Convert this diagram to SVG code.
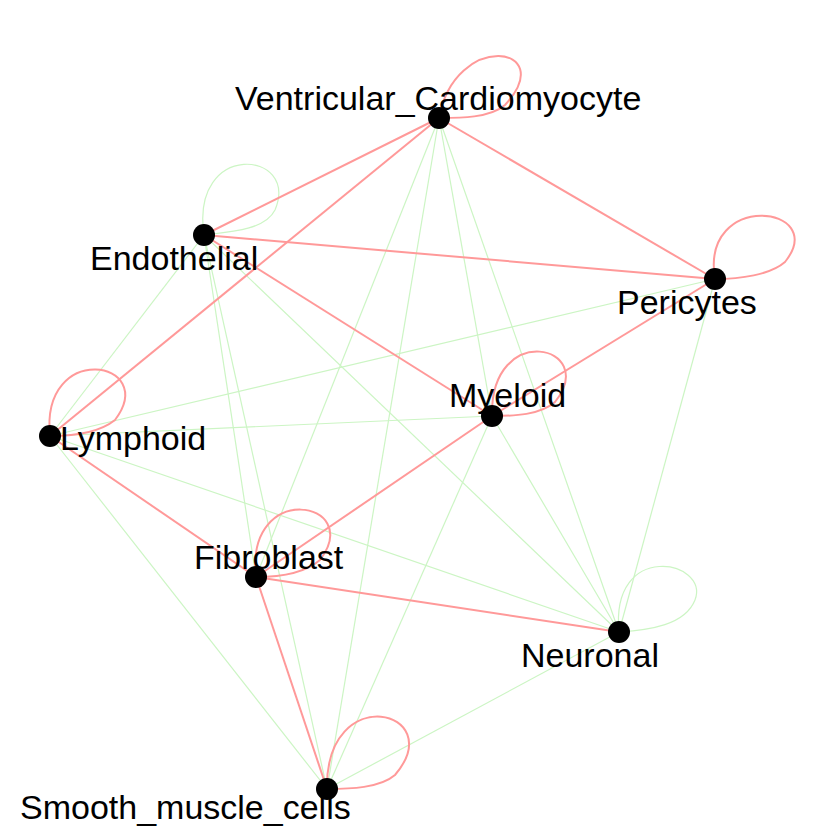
<svg xmlns="http://www.w3.org/2000/svg" width="840" height="840" viewBox="0 0 840 840">
<style>
.r{stroke:#ff9999;stroke-width:2;fill:none}
.g{stroke:#ccf5c4;stroke-width:1.2;fill:none}
.t{font-family:"Liberation Sans",Arial,sans-serif;font-size:34px;fill:#000}
</style>
<rect width="840" height="840" fill="#fff"/>
<g id="connectors">
<line class="g" x1="439" y1="118" x2="492" y2="416"/>
<line class="g" x1="439" y1="118" x2="619" y2="632"/>
<line class="g" x1="439" y1="118" x2="256" y2="577"/>
<line class="g" x1="439" y1="118" x2="327" y2="789"/>
<line class="g" x1="204" y1="235" x2="50" y2="436"/>
<line class="g" x1="204" y1="235" x2="256" y2="577"/>
<line class="g" x1="204" y1="235" x2="327" y2="789"/>
<line class="g" x1="204" y1="235" x2="619" y2="632"/>
<line class="g" x1="715" y1="279" x2="50" y2="436"/>
<line class="g" x1="715" y1="279" x2="619" y2="632"/>
<line class="g" x1="50" y1="436" x2="492" y2="416"/>
<line class="g" x1="50" y1="436" x2="619" y2="632"/>
<line class="g" x1="50" y1="436" x2="327" y2="789" stroke-width="0.7"/>
<line class="g" x1="492" y1="416" x2="619" y2="632"/>
<line class="g" x1="492" y1="416" x2="327" y2="789"/>
<line class="g" x1="619" y1="632" x2="327" y2="789"/>
<path class="g" d="M204,235 C190,140 300,150 275,210 C265,230 230,232 204,235"/>
<path class="g" d="M619,632 C610,540 710,560 695,600 C685,625 650,630 619,632"/>
<line class="r" x1="439" y1="118" x2="204" y2="235"/>
<line class="r" x1="439" y1="118" x2="715" y2="279"/>
<line class="r" x1="439" y1="118" x2="50" y2="436"/>
<line class="r" x1="204" y1="235" x2="715" y2="279"/>
<line class="r" x1="204" y1="235" x2="492" y2="416"/>
<line class="r" x1="715" y1="279" x2="492" y2="416" stroke="#ff7777" stroke-width="3"/>
<line class="r" x1="492" y1="416" x2="256" y2="577" stroke="#ff8080" stroke-width="2.5"/>
<line class="r" x1="50" y1="436" x2="256" y2="577" stroke="#ff6a6a" stroke-width="3.5"/>
<line class="r" x1="256" y1="577" x2="619" y2="632" stroke="#ff6060" stroke-width="3.5"/>
<line class="r" x1="256" y1="577" x2="327" y2="789" stroke="#ff6060" stroke-width="3"/>
<path class="r" d="M439,118 C455,30 560,45 505,105 C490,118 460,118 439,118"/>
<path class="r" d="M715,279 C700,190 830,205 785,262 C770,275 740,279 715,279"/>
<path class="r" d="M492,416 C490,320 600,345 555,402 C540,415 515,416 492,416" stroke="#ff7777" stroke-width="2.5"/>
<path class="r" d="M50,436 C40,340 160,360 115,420 C100,432 75,436 50,436" stroke="#ff7777" stroke-width="3"/>
<path class="r" d="M256,577 C245,480 365,500 320,560 C305,573 280,577 256,577" stroke="#ff8080" stroke-width="2.5"/>
<path class="r" d="M327,789 C325,680 450,710 395,775 C380,788 350,789 327,789" stroke="#ff0000" stroke-width="6"/>
</g>
<g id="n1"><circle cx="439" cy="118" r="11"/><text class="t" x="235" y="110">Ventricular_Cardiomyocyte</text></g>
<g id="n2"><circle cx="204" cy="235" r="11"/><text class="t" x="90" y="270">Endothelial</text></g>
<g id="n3"><circle cx="715" cy="279" r="11"/><text class="t" x="617" y="314">Pericytes</text></g>
<g id="n4"><circle cx="492" cy="416" r="11"/><text class="t" x="449" y="407">Myeloid</text></g>
<g id="n5"><circle cx="50" cy="436" r="11"/><text class="t" x="60" y="450">Lymphoid</text></g>
<g id="n6"><circle cx="256" cy="577" r="11"/><text class="t" x="194" y="569">Fibroblast</text></g>
<g id="n7"><circle cx="619" cy="632" r="11"/><text class="t" x="521" y="667">Neuronal</text></g>
<g id="n8"><circle cx="327" cy="789" r="11"/><text class="t" x="20" y="819">Smooth_muscle_cells</text></g>
</svg>
